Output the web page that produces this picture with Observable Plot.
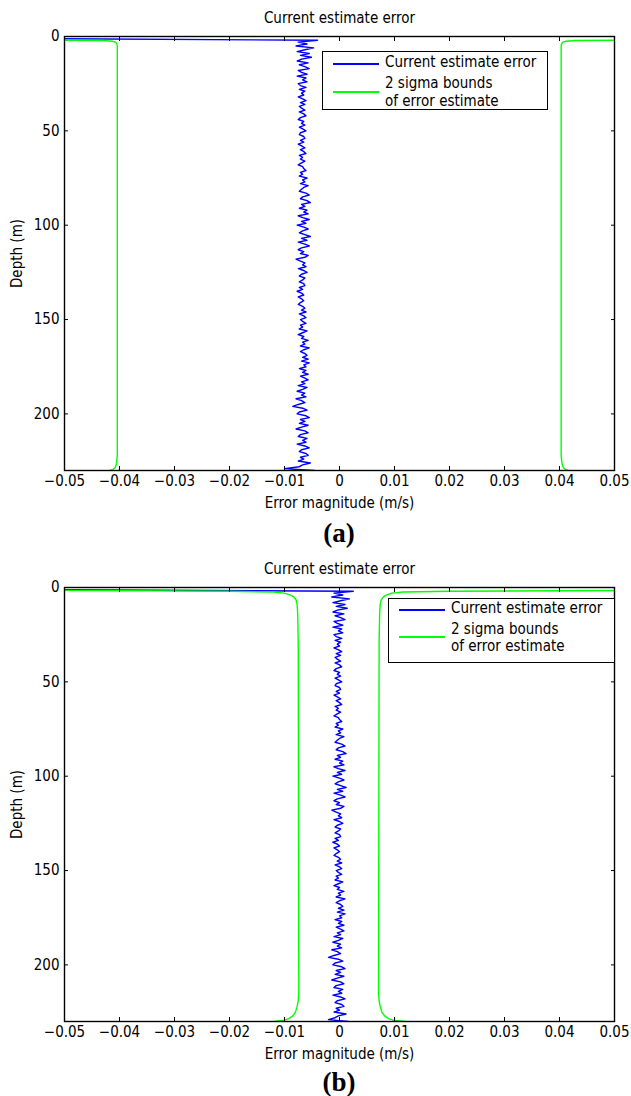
<!DOCTYPE html>
<html><head><meta charset="utf-8">
<script src="https://cdn.jsdelivr.net/npm/d3@7"></script>
<script src="https://cdn.jsdelivr.net/npm/@observablehq/plot@0.6"></script>
<style>
body{margin:0;background:#fff;}
#wrap{position:relative;width:631px;height:1096px;overflow:hidden;font-family:"DejaVu Sans Condensed","DejaVu Sans",sans-serif;font-stretch:condensed;}
.panel{position:absolute;left:0;}
.cap{position:absolute;left:239px;width:200px;text-align:center;font-family:"Liberation Serif",serif;font-weight:bold;font-size:27px;line-height:27px;color:#000;font-stretch:normal;}
.leg{position:absolute;border:1.4px solid #000;background:#fff;box-sizing:border-box;font-size:15px;color:#000;}
.leg .smp{position:absolute;height:1.5px;}
.leg .lt{position:absolute;white-space:nowrap;line-height:17.5px;}
</style>
</head><body><div id="wrap"></div>
<script>
// ---- data (error values in units of 1e-4 m/s, depth in m) ----
const titleText = "Current estimate error";
const xLabel = "Error magnitude (m/s)";
const yLabel = "Depth (m)";
const legendLabels = ["Current estimate error", ["2 sigma bounds", "of error estimate"]];
const xTicks = [-0.05, -0.04, -0.03, -0.02, -0.01, 0, 0.01, 0.02, 0.03, 0.04, 0.05];
const yTicks = [0, 50, 100, 150, 200];
const depthMax = 230;

// blue series: one value per metre of depth, depth 1..230
const blueA = [-600,
 -40,-75,-59,-79,-47,-63,-77,-55,-71,-51,
 -69,-77,-57,-73,-63,-55,-75,-69,-59,-77,
 -61,-67,-59,-75,-71,-61,-73,-63,-69,-65,
 -75,-67,-61,-71,-63,-73,-69,-63,-73,-65,
 -61,-71,-75,-65,-69,-63,-73,-67,-61,-71,
 -73,-65,-63,-71,-65,-75,-69,-63,-71,-65,
 -61,-73,-67,-71,-63,-69,-75,-67,-65,-61,
 -71,-67,-73,-59,-67,-63,-71,-57,-65,-69,
 -73,-61,-55,-67,-71,-59,-53,-69,-63,-73,
 -59,-65,-57,-75,-67,-55,-69,-61,-77,-65,
 -57,-67,-73,-63,-53,-69,-59,-75,-63,-55,
 -69,-75,-65,-71,-57,-63,-79,-71,-63,-67,
 -61,-75,-65,-59,-69,-73,-63,-67,-73,-65,
 -63,-73,-67,-77,-69,-65,-75,-69,-65,-71,
 -75,-67,-63,-69,-61,-73,-65,-61,-71,-67,
 -61,-71,-67,-73,-59,-67,-75,-65,-69,-57,
 -67,-63,-71,-55,-65,-71,-63,-59,-67,-57,
 -69,-55,-65,-61,-73,-61,-67,-57,-71,-63,
 -57,-69,-63,-75,-59,-67,-77,-63,-69,-61,
 -79,-69,-63,-75,-85,-67,-59,-73,-77,-61,
 -55,-71,-63,-73,-57,-69,-79,-63,-57,-71,
 -75,-59,-67,-61,-77,-63,-55,-69,-73,-61,
 -57,-71,-65,-75,-53,-67,-73,-100,-45];
const blueB = [-600,
 25,-10,6,-14,18,2,-12,10,-6,14,
 -4,-12,8,-8,2,10,-10,-4,6,-12,
 4,-2,6,-10,-6,4,-8,2,-4,0,
 -10,-2,4,-6,2,-8,-4,2,-8,0,
 4,-6,-10,0,-4,2,-8,-2,4,-6,
 -8,0,2,-6,0,-10,-4,2,-6,0,
 4,-8,-2,-6,2,-4,-10,-2,0,4,
 -6,-2,-8,6,-2,2,-6,8,0,-4,
 -8,4,10,-2,-6,6,12,-4,2,-8,
 6,0,8,-10,-2,10,-4,4,-12,0,
 8,-2,-8,2,12,-4,6,-10,2,10,
 -4,-10,0,-6,8,2,-14,-6,2,-2,
 4,-10,0,6,-4,-8,2,-2,-8,0,
 2,-8,-2,-12,-4,0,-10,-4,0,-6,
 -10,-2,2,-4,4,-8,0,4,-6,-2,
 4,-6,-2,-8,6,-2,-10,0,-4,8,
 -2,2,-6,10,0,-6,2,6,-2,8,
 -4,10,0,4,-8,4,-2,8,-6,2,
 8,-4,2,-10,6,-2,-12,2,-4,4,
 -14,-4,2,-10,-20,-2,6,-8,-12,4,
 10,-6,2,-8,8,-4,-14,2,8,-6,
 -10,6,-2,4,-12,2,10,-4,-8,4,
 8,-6,0,-10,12,-2,-8,-20,16];
const blueDepth = d3.range(1, depthMax + 1);

// 2 sigma bounds, panel (a)
const greenADepth = [1.8, 2.1, 2.5, 3.0, 3.8, 5, 10, 222, 225, 227, 228.5, 229.5, 230];
const greenALow  = [-600, -430, -413, -407, -405, -404, -404, -404, -405, -406, -408, -412, -417];
const greenAHigh = [600, 428, 412, 406, 404, 403, 403, 403, 404, 405, 407, 411, 416];
// 2 sigma bounds, panel (b)
const greenBDepth = [1.4, 2.0, 2.4, 3, 4, 5, 6.5, 9, 14, 30, 215, 219, 222, 225, 227, 228.5, 229.5, 230];
const greenBLow  = [-600, -200, -120, -100, -89, -83, -79, -77, -76, -75, -74, -75, -77, -80, -85, -92, -103, -119];
const greenBHigh = [600, 200, 115, 95, 85, 80, 76, 74, 73, 72, 71, 72, 74, 77, 82, 89, 100, 120];

const unit = 1e-4;
const BLUE = "#0000ff", GREEN = "#00ff00";

function rows(depths, vals) { return depths.map((d, i) => ({d, v: vals[i] * unit})); }
const fmt = d3.format(".2~f");

function panel(blue, low, high) {
  return Plot.plot({
    width: 631, height: 520,
    marginTop: 36, marginBottom: 50, marginLeft: 64, marginRight: 17,
    x: {domain: [-0.05, 0.05]},
    y: {domain: [0, depthMax], reverse: true},
    style: {fontFamily: "'DejaVu Sans Condensed','DejaVu Sans',sans-serif", fontStretch: "condensed", fontSize: "15px", color: "#000", background: "#fff", overflow: "visible"},
    marks: [
      Plot.line(blue, {x: "v", y: "d", stroke: BLUE, strokeWidth: 1.4, clip: true}),
      Plot.line(low, {x: "v", y: "d", stroke: GREEN, strokeWidth: 1.4, clip: true}),
      Plot.line(high, {x: "v", y: "d", stroke: GREEN, strokeWidth: 1.4, clip: true}),
      Plot.frame({stroke: "#000", strokeWidth: 1.4}),
      Plot.axisX({ticks: xTicks, tickSize: -4, tickPadding: 9, tickFormat: fmt, label: null}),
      Plot.axisX({anchor: "top", ticks: xTicks, tickSize: -4, tickFormat: () => "", label: null}),
      Plot.axisY({ticks: yTicks, tickSize: -4, tickPadding: 9, tickFormat: fmt, label: null}),
      Plot.axisY({anchor: "right", ticks: yTicks, tickSize: -4, tickFormat: () => "", label: null}),
      Plot.text([titleText], {frameAnchor: "top", dy: -18, lineAnchor: "middle"}),
      Plot.text([xLabel], {frameAnchor: "bottom", dy: 33, lineAnchor: "middle"}),
      Plot.text([yLabel], {frameAnchor: "left", dx: -47, rotate: -90, textAnchor: "middle", lineAnchor: "middle"})
    ]
  });
}

const wrap = document.getElementById("wrap");
function place(el, top) { el.classList.add("panel"); el.style.top = top + "px"; wrap.appendChild(el); }
place(panel(rows(blueDepth, blueA), rows(greenADepth, greenALow), rows(greenADepth, greenAHigh)), 0);
place(panel(rows(blueDepth, blueB), rows(greenBDepth, greenBLow), rows(greenBDepth, greenBHigh)), 551);

function caption(txt, top) {
  const c = document.createElement("div"); c.className = "cap"; c.style.top = top + "px"; c.textContent = txt; wrap.appendChild(c);
}
caption("(a)", 520);
caption("(b)", 1069);

function legend(left, top, w, h, yBlue, yGreen, yT2) {
  const L = document.createElement("div"); L.className = "leg";
  Object.assign(L.style, {left: left + "px", top: top + "px", width: w + "px", height: h + "px"});
  const smp = (y, c) => { const s = document.createElement("div"); s.className = "smp"; Object.assign(s.style, {left: "10px", width: "46px", top: y + "px", background: c}); L.appendChild(s); };
  const txt = (y, lines) => {
    const s = document.createElement("div"); s.className = "lt";
    Object.assign(s.style, {left: "62px", top: (y - 8.75) + "px"});
    [].concat(lines).forEach((t, i) => { if (i) s.appendChild(document.createElement("br")); s.appendChild(document.createTextNode(t)); });
    L.appendChild(s);
  };
  smp(yBlue, BLUE); smp(yGreen, GREEN);
  txt(yBlue, legendLabels[0]); txt(yT2, legendLabels[1]);
  wrap.appendChild(L);
}
legend(322, 51, 226, 59, 11, 39, 32);
legend(388, 598, 227, 65, 10, 37, 30.5);
</script></body></html>
